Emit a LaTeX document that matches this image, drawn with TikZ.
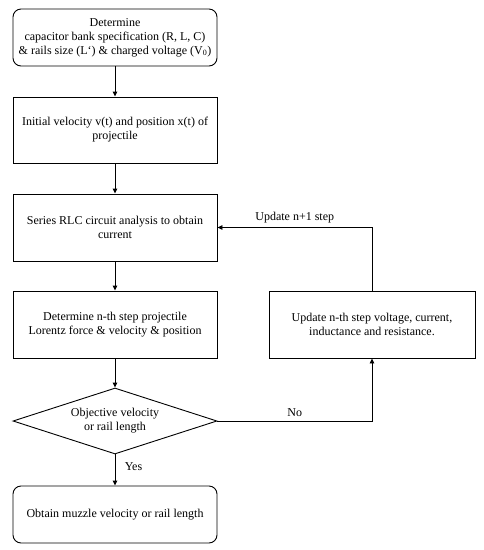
\documentclass[tikz,border=0pt]{standalone}
\usepackage{fontspec}
\setmainfont{Liberation Serif}
\usetikzlibrary{shapes.geometric,arrows.meta}
\begin{document}
\begin{tikzpicture}[x=1pt,y=-1pt,
  every node/.style={font=\fontsize{12}{14}\selectfont, align=center, line width=0.9pt},
  box/.style={draw, rectangle, minimum width=204pt, inner sep=2pt},
  rbox/.style={box, rounded corners=8pt},
  dec/.style={draw, diamond, aspect=3.09, minimum width=204pt, minimum height=66pt, inner sep=0pt},
  arr/.style={draw, line width=0.9pt, -{Triangle[length=5pt,width=4.5pt]}},
  lab/.style={font=\fontsize{12}{14}\selectfont}]
\useasboundingbox (0,0) rectangle (484,550);
\node[rbox, minimum height=57pt] (b1) at (115,37.5) {Determine\\capacitor bank specification (R, L, C)\\\& rails size (L`) \& charged voltage (V\textsubscript{0})};
\node[box, minimum height=66pt] (b2) at (115,130) {Initial velocity v(t) and position x(t) of\\projectile};
\node[box, minimum height=67pt] (b3) at (115,227.5) {Series RLC circuit analysis to obtain\\current};
\node[box, minimum height=67pt] (b4) at (115,324.5) {Determine n-th step projectile\\Lorentz force \& velocity \& position};
\node[dec] (d) at (115,421) {Objective velocity\\or rail length};
\node[rbox, minimum height=57pt] (b5) at (115,514.5) {Obtain muzzle velocity or rail length};
\node[box, minimum width=206pt, minimum height=67pt] (r) at (372,324.5) {Update n-th step voltage, current,\\inductance and resistance.};
\draw[arr] (b1) -- (b2);
\draw[arr] (b2) -- (b3);
\draw[arr] (b3) -- (b4);
\draw[arr] (b4) -- (d);
\draw[arr] (d) -- node[lab, right=6pt, pos=0.4] (yes) {Yes} (b5);
\draw[arr] (d.east) -| node[lab, pos=0.25, above=1pt] (no) {No} (r.south);
\draw[arr] (r.north) |- node[lab, pos=0.75, above=1pt] (upd) {Update n+1 step} (b3.east);
\end{tikzpicture}
\end{document}
